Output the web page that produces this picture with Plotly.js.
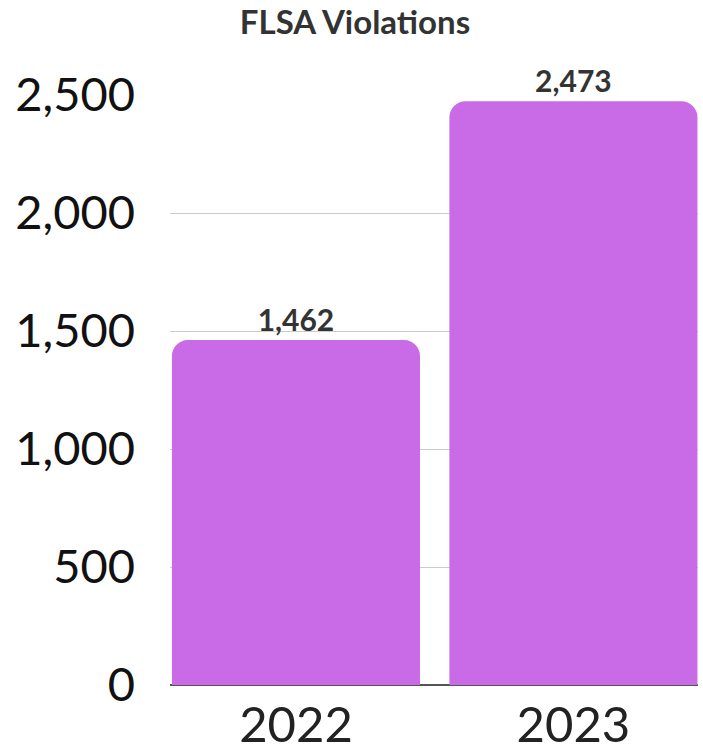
<!DOCTYPE html>
<html>
<head>
<meta charset="utf-8">
<script src="https://cdn.plot.ly/plotly-3.0.1.min.js"></script>
<style>html,body{margin:0;padding:0;background:#fff;}#chart{width:703px;height:753px;}</style>
</head>
<body>
<div id="chart"></div>
<script>
const years = ["2022", "2023"];
const violations = [1462, 2473];
const yTicks = [0, 500, 1000, 1500, 2000, 2500];
const yTickLabels = ["0", "500", "1,000", "1,500", "2,000", "2,500"];

const trace = {
  type: "bar",
  x: years,
  y: violations,
  text: violations.map(v => v.toLocaleString("en-US")),
  textposition: "outside",
  cliponaxis: false,
  textfont: {family: "Lato", size: 30, color: "#333333", weight: "bold"},
  marker: {color: "#c96be7", cornerradius: 16},
  hoverinfo: "none"
};

const layout = {
  width: 703, height: 753,
  margin: {l: 170, r: 5, t: 95, b: 68},
  paper_bgcolor: "#ffffff",
  plot_bgcolor: "#ffffff",
  font: {family: "Lato", color: "#111111"},
  title: {
    text: "<b>FLSA Violations</b>",
    font: {family: "Lato", size: 33, color: "#333333"},
    xref: "container", x: 0.505, xanchor: "center",
    yref: "container", y: 0.97, yanchor: "middle"
  },
  bargap: 0.106,
  showlegend: false,
  xaxis: {
    type: "category",
    range: [-0.454, 1.449],
    showgrid: false,
    showline: false,
    zeroline: false,
    ticks: "",
    tickfont: {family: "Lato", size: 49, color: "#222222"},
    ticklabelstandoff: 7
  },
  yaxis: {
    range: [0, 2500],
    tickvals: yTicks,
    ticktext: yTickLabels,
    showgrid: true,
    gridcolor: "#cccccc",
    gridwidth: 1,
    zeroline: true,
    zerolinecolor: "#555555",
    zerolinewidth: 1.5,
    showline: false,
    ticks: "",
    tickfont: {family: "Lato", size: 47, color: "#111111"},
    ticklabelstandoff: 34
  }
};

Plotly.newPlot("chart", [trace], layout, {displayModeBar: false, staticPlot: true});
</script>
</body>
</html>
